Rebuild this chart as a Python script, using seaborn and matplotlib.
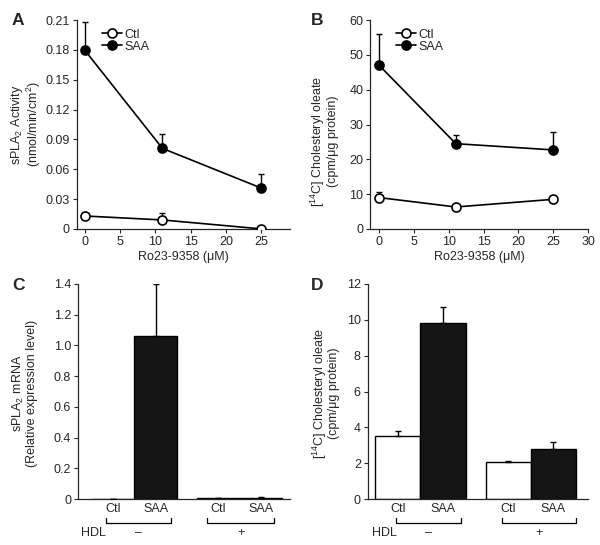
import numpy as np
import pandas as pd
import matplotlib
matplotlib.use("Agg")
import matplotlib.pyplot as plt
import seaborn as sns

# Painéis A e B: curva dose-resposta
dose = [0, 11, 25]
a_ctl = [0.013, 0.009, 0.0]
a_ctl_err = [0.002, 0.007, 0.0]
a_saa = [0.180, 0.081, 0.041]
a_saa_err = [0.028, 0.014, 0.014]

b_ctl = [9.0, 6.3, 8.5]
b_ctl_err = [1.5, 0.5, 0.5]
b_saa = [47.0, 24.5, 22.7]
b_saa_err = [9.0, 2.5, 5.2]

# Painéis C e D: barras
bar_labels = ["Ctl", "SAA", "Ctl", "SAA"]
bar_pos = [0, 1, 2.45, 3.45]
c_vals = [0.0, 1.06, 0.005, 0.006]
c_err = [0.0, 0.34, 0.0, 0.006]
d_vals = [3.55, 9.8, 2.07, 2.8]
d_err = [0.25, 0.9, 0.06, 0.4]
hdl_labels = ["\u2013", "+"]

sns.set_style("ticks")
plt.rcParams["font.family"] = ["Liberation Sans", "DejaVu Sans"]
plt.rcParams["mathtext.fontset"] = "custom"
plt.rcParams["mathtext.rm"] = "Liberation Sans"
plt.rcParams["mathtext.it"] = "Liberation Sans:italic"
plt.rcParams["font.size"] = 9
plt.rcParams["axes.linewidth"] = 0.9
plt.rcParams["xtick.major.size"] = 3
plt.rcParams["ytick.major.size"] = 3
plt.rcParams["xtick.major.pad"] = 2
plt.rcParams["ytick.major.pad"] = 2

fig = plt.figure(figsize=(6, 5.45), dpi=100)
axA = fig.add_axes([0.128, 0.580, 0.355, 0.383])
axB = fig.add_axes([0.617, 0.580, 0.363, 0.383])
axC = fig.add_axes([0.130, 0.084, 0.353, 0.395])
axD = fig.add_axes([0.613, 0.084, 0.367, 0.395])


def dose_panel(ax, ctl, ctl_err, saa, saa_err):
    for vals, err in [(saa, saa_err), (ctl, ctl_err)]:
        ax.errorbar(dose, vals, yerr=[np.zeros(3), err], fmt="none",
                    ecolor="black", elinewidth=1, capsize=2.5, zorder=2)
    df = pd.DataFrame({"x": dose * 2, "y": ctl + saa,
                       "grp": ["Ctl"] * 3 + ["SAA"] * 3})
    sns.lineplot(data=df[df.grp == "Ctl"], x="x", y="y", ax=ax, color="black",
                 marker="o", markersize=6.5, mfc="white", mec="black", mew=1.2,
                 lw=1.2, label="Ctl", zorder=3)
    sns.lineplot(data=df[df.grp == "SAA"], x="x", y="y", ax=ax, color="black",
                 marker="o", markersize=6.5, mfc="black", mec="black", mew=1.2,
                 lw=1.2, label="SAA", zorder=3)
    ax.set_xlabel("Ro23-9358 (\u03bcM)", labelpad=2)
    ax.legend(loc="upper left", bbox_to_anchor=(0.09, 0.99), frameon=False,
              handlelength=1.6, handletextpad=0.2, labelspacing=0.0,
              borderpad=0, fontsize=9)
    sns.despine(ax=ax)


# A
dose_panel(axA, a_ctl, a_ctl_err, a_saa, a_saa_err)
axA.set_xlim(-1.1, 29)
axA.set_xticks([0, 5, 10, 15, 20, 25])
axA.set_ylim(0, 0.21)
a_ticks = [0, 0.03, 0.06, 0.09, 0.12, 0.15, 0.18, 0.21]
axA.set_yticks(a_ticks, ["0"] + [f"{t:.2f}" for t in a_ticks[1:]])
axA.set_ylabel("sPLA$_2$ Activity\n(nmol/min/cm$^2$)", linespacing=0.95)
axA.yaxis.set_label_coords(-0.16, 0.5)

# B
dose_panel(axB, b_ctl, b_ctl_err, b_saa, b_saa_err)
axB.set_xlim(-1.3, 30)
axB.set_xticks([0, 5, 10, 15, 20, 25, 30])
axB.set_ylim(0, 60)
axB.set_yticks(range(0, 61, 10))
axB.set_ylabel("[$^{14}$C] Cholesteryl oleate\n(cpm/\u03bcg protein)",
               linespacing=0.95)
axB.yaxis.set_label_coords(-0.145, 0.42)


def bar_panel(ax, vals, err, hdl_x, brackets):
    df = pd.DataFrame({"pos": bar_pos, "val": vals, "grp": bar_labels})
    sns.barplot(data=df, x="pos", y="val", hue="grp", native_scale=True,
                dodge=False, width=1.0, palette={"Ctl": "white", "SAA": "#151515"},
                edgecolor="black", linewidth=1.0, legend=False, ax=ax, zorder=2)
    ax.errorbar(bar_pos, vals, yerr=[np.zeros(4), err], fmt="none",
                ecolor="black", elinewidth=1, capsize=2.5, zorder=3)
    ax.set_xticks(bar_pos, bar_labels, fontsize=9)
    ax.tick_params(axis="x", length=0, pad=3)
    ax.set_xlabel("")
    sns.despine(ax=ax)
    trans = ax.get_xaxis_transform()
    for g, (x0, x1) in enumerate(brackets):
        ax.plot([x0, x0, x1, x1], [-0.085, -0.11, -0.11, -0.085], color="black",
                lw=0.9, transform=trans, clip_on=False)
        ax.text((x0 + x1) / 2, -0.155, hdl_labels[g], transform=trans,
                ha="center", va="center", fontsize=9)
    ax.text(hdl_x, -0.155, "HDL", transform=trans, ha="left", va="center",
            fontsize=9)


# C
bar_panel(axC, c_vals, c_err, -0.74, [(-0.16, 1.35), (2.2, 3.75)])
axC.set_xlim(-0.81, 4.12)
axC.set_ylim(0, 1.4)
c_ticks = [0, 0.2, 0.4, 0.6, 0.8, 1.0, 1.2, 1.4]
axC.set_yticks(c_ticks, ["0"] + [f"{t:.1f}" for t in c_ticks[1:]])
axC.set_ylabel("sPLA$_2$ mRNA\n(Relative expression level)", linespacing=0.95)
axC.yaxis.set_label_coords(-0.19, 0.49)

# D
bar_panel(axD, d_vals, d_err, -0.58, [(-0.05, 1.4), (2.3, 3.95)])
axD.set_xlim(-0.67, 4.22)
axD.set_ylim(0, 12)
axD.set_yticks(range(0, 13, 2))
axD.set_ylabel("[$^{14}$C] Cholesteryl oleate\n(cpm/\u03bcg protein)",
               linespacing=0.95)
axD.yaxis.set_label_coords(-0.125, 0.49)

for lab, x, y in [("A", 0.02, 0.962), ("B", 0.518, 0.962),
                  ("C", 0.02, 0.477), ("D", 0.518, 0.477)]:
    fig.text(x, y, lab, fontsize=12.5, fontweight="bold", va="center", ha="left")

fig.savefig("out.png", dpi=100)
